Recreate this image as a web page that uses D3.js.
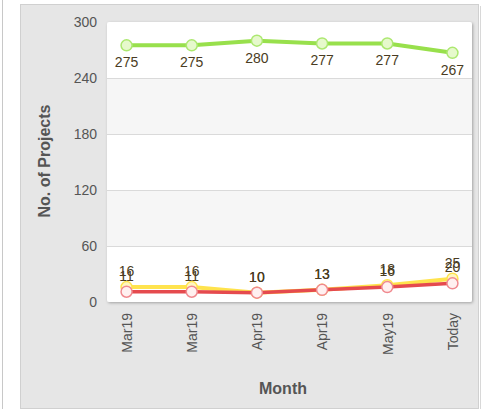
<!DOCTYPE html>
<html><head><meta charset="utf-8">
<script src="https://cdn.jsdelivr.net/npm/d3@7"></script>
<style>body{margin:0;background:#fff;}svg{display:block;font-family:Arial,"Liberation Sans",sans-serif;}</style>
</head><body><svg id="c" width="491" height="409"></svg>
<script>
const categories = ["Mar19","Mar19","Apr19","Apr19","May19","Today"];
const greenValues = [275,275,280,277,277,267];
const yellowValues = [16,16,10,13,18,25];
const redValues = [11,11,10,13,16,20];
const yTicks = [0,60,120,180,240,300];

const FONT = "Arial,'Liberation Sans',sans-serif";
const svg = d3.select("#c");
const L=107,R=472,T=22,B=302;
svg.append("line").attr("x1",2.5).attr("x2",2.5).attr("y1",0).attr("y2",409).attr("stroke","#c8c8c8");
svg.append("rect").attr("x",20.5).attr("y",4.5).attr("width",458).attr("height",404).attr("fill","#e6e6e6").attr("stroke","#d0d0d0");
svg.append("line").attr("x1",480.5).attr("x2",480.5).attr("y1",6).attr("y2",409).attr("stroke","#d8d8d8");

const x = d3.scalePoint().domain(d3.range(categories.length)).range([L,R]).padding(0.3);
const y = d3.scaleLinear().domain([0,300]).range([B,T]);

const defs=svg.append("defs");
const f=defs.append("filter").attr("id","sh").attr("x","-5%").attr("y","-5%").attr("width","110%").attr("height","110%");
f.append("feDropShadow").attr("dx",1).attr("dy",1).attr("stdDeviation",1.5).attr("flood-color","#000").attr("flood-opacity",0.3);

svg.append("rect").attr("x",L).attr("y",T).attr("width",R-L).attr("height",B-T).attr("fill","#fff").attr("rx",2).attr("filter","url(#sh)");
[[60,120],[180,240]].forEach(b=>{
  svg.append("rect").attr("x",L).attr("width",R-L).attr("y",y(b[1])).attr("height",y(b[0])-y(b[1])).attr("fill","#f6f6f6");
});
svg.append("g").selectAll("line").data(yTicks.filter(t=>t>0&&t<300)).join("line")
  .attr("x1",L).attr("x2",R).attr("y1",d=>Math.round(y(d))+0.5).attr("y2",d=>Math.round(y(d))+0.5).attr("stroke","#dadada");

const ya = svg.append("g").attr("transform",`translate(${L-10},0)`)
  .call(d3.axisLeft(y).tickValues(yTicks).tickSize(0).tickPadding(0));
ya.select(".domain").remove();
ya.selectAll("text").attr("font-size",14).attr("fill","#555").attr("font-family",FONT);

const xa = svg.append("g").attr("transform",`translate(0,${B+11})`)
  .call(d3.axisBottom(x).tickFormat(i=>categories[i]).tickSize(0).tickPadding(0));
xa.select(".domain").remove();
xa.selectAll("text").attr("font-size",14).attr("fill","#555").attr("font-family",FONT)
  .attr("transform","rotate(-90)").attr("text-anchor","end").attr("dx",0).attr("dy","0.35em").attr("y",0).attr("x",0);

svg.append("text").attr("x",283).attr("y",394).attr("text-anchor","middle").attr("font-size",16).attr("font-weight","bold").attr("fill","#555").text("Month");
svg.append("text").attr("transform","translate(50,161) rotate(-90)").attr("text-anchor","middle").attr("font-size",16).attr("font-weight","bold").attr("fill","#555").text("No. of Projects");

const line = d3.line().x((d,i)=>x(i)).y(d=>y(d));
function series(vals,color,mFill,mStroke,lw){
  svg.append("path").datum(vals).attr("d",line).attr("fill","none").attr("stroke",color).attr("stroke-width",lw).attr("stroke-linejoin","round");
  svg.append("g").selectAll("circle").data(vals).join("circle")
    .attr("cx",(d,i)=>x(i)).attr("cy",d=>y(d)).attr("r",5.5).attr("fill",mFill).attr("stroke",mStroke).attr("stroke-width",1.5);
}
series(greenValues,"#98e04c","#e6f9cc","#ace870",4);
series(yellowValues,"#ffe34d","#fff6c0","#ffe34d",4);
series(redValues,"#e54a4e","#fff0f0","#f0898f",3.5);

function labels(vals,dy){
  svg.append("g").selectAll("text").data(vals).join("text")
    .attr("x",(d,i)=>x(i)).attr("y",d=>y(d)+dy).attr("text-anchor","middle")
    .attr("font-size",14).attr("fill","#4a3c22").attr("font-family",FONT).text(d=>d);
}
labels(greenValues,22);
labels(redValues,-11);
labels(yellowValues,-11);
</script></body></html>
